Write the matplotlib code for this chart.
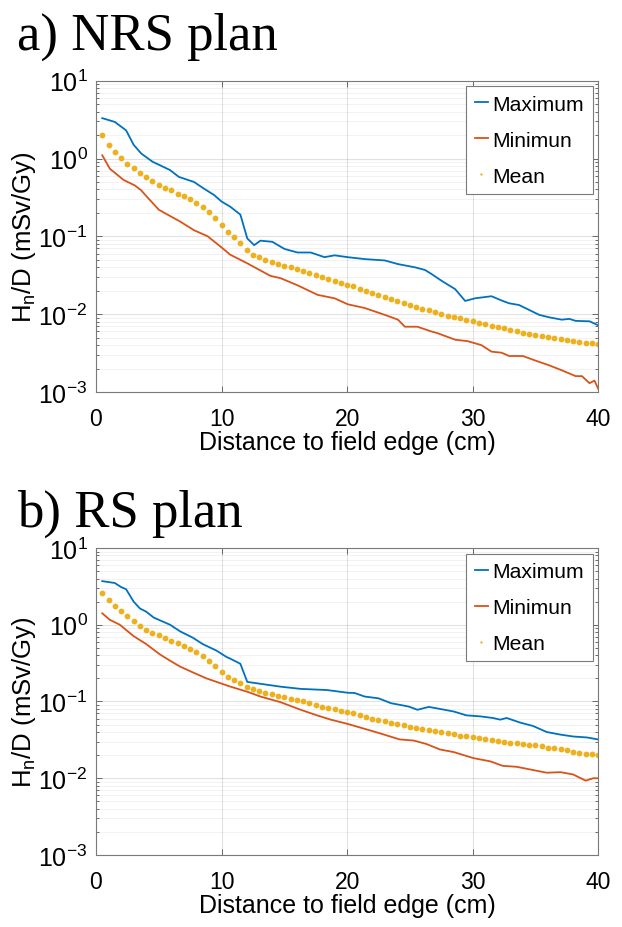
import numpy as np
import matplotlib
matplotlib.use("Agg")
import matplotlib.pyplot as plt
from matplotlib.ticker import LogLocator, LogFormatterMathtext, NullFormatter

plt.rcParams['font.family'] = ['Liberation Sans', 'DejaVu Sans']
plt.rcParams['mathtext.fontset'] = 'custom'
plt.rcParams['mathtext.rm'] = 'Liberation Sans'
plt.rcParams['mathtext.it'] = 'Liberation Sans:italic'

# MATLAB default colours
BLUE = '#0072BD'
RED = '#D95319'
YELLOW = '#EDB120'

# Mean dots: one every 0.5 cm
mean_x = np.arange(1, 81) * 0.5

# a) NRS plan
nrs_max_x = [0.5, 1.5, 2.4, 3.0, 3.6, 4.5, 5.9, 6.6, 7.8, 8.6, 9.4, 10.0, 10.7, 11.5,
             12.05, 12.6, 13.1, 14.05, 15.0, 16.05, 17.1, 18.2, 19.0, 20.05, 21.4,
             23.0, 24.05, 25.4, 26.2, 26.7, 27.5, 28.6, 29.4, 30.2, 31.5, 32.3,
             32.9, 33.7, 35.3, 36.1, 37.1, 37.7, 38.2, 39.3, 40.0]
nrs_max_y = [3.3, 2.95, 2.3, 1.5, 1.16, 0.91, 0.71, 0.58, 0.50, 0.41, 0.34, 0.28, 0.24, 0.19,
             0.094, 0.077, 0.088, 0.085, 0.069, 0.062, 0.062, 0.054, 0.057, 0.054, 0.051,
             0.049, 0.044, 0.040, 0.037, 0.033, 0.027, 0.021, 0.0148, 0.016, 0.017, 0.015,
             0.0138, 0.0131, 0.0098, 0.0091, 0.0085, 0.0087, 0.0082, 0.0081, 0.0072]
nrs_min_x = [0.5, 1.1, 2.2, 3.1, 3.6, 4.0, 5.0, 5.7, 6.7, 7.8, 8.9, 10.0, 10.7, 12.05,
             13.9, 14.7, 16.05, 17.65, 19.0, 20.05, 21.4, 23.0, 24.05, 24.6, 25.6,
             26.7, 27.2, 28.6, 29.6, 30.7, 31.5, 32.3, 32.9, 34.0, 35.1, 36.1, 37.1,
             38.2, 38.7, 39.3, 39.7, 40.0]
nrs_min_y = [1.10, 0.74, 0.53, 0.45, 0.39, 0.33, 0.22, 0.19, 0.155, 0.12, 0.10, 0.072, 0.058, 0.045,
             0.031, 0.029, 0.0235, 0.0177, 0.016, 0.0134, 0.012, 0.0098, 0.0085, 0.0069, 0.0069,
             0.006, 0.0057, 0.0047, 0.0045, 0.0040, 0.0033, 0.0032, 0.0029, 0.0029, 0.0025,
             0.0022, 0.0019, 0.0016, 0.0016, 0.0013, 0.0014, 0.0011]
nrs_mean = [2.0, 1.5, 1.22, 1.02, 0.86, 0.75, 0.66, 0.58, 0.51, 0.46,
            0.42, 0.39, 0.355, 0.325, 0.30, 0.27, 0.24, 0.205, 0.17, 0.138,
            0.115, 0.098, 0.081, 0.066, 0.058, 0.054, 0.050, 0.047, 0.0445, 0.042,
            0.040, 0.038, 0.036, 0.034, 0.032, 0.030, 0.0285, 0.027, 0.0255, 0.024,
            0.0227, 0.0213, 0.0200, 0.0188, 0.0178, 0.0167, 0.0157, 0.0148, 0.0140, 0.0132,
            0.0125, 0.0118, 0.0112, 0.0106, 0.0101, 0.0096, 0.0092, 0.0088, 0.0084, 0.0081,
            0.0077, 0.0074, 0.0071, 0.0068, 0.0066, 0.0063, 0.0061, 0.0058, 0.0056, 0.0054,
            0.0052, 0.0051, 0.0049, 0.0048, 0.0047, 0.0045, 0.0044, 0.0043, 0.0042, 0.0041]

# b) RS plan
rs_max_x = [0.5, 1.5, 2.0, 2.4, 3.0, 3.5, 4.0, 4.6, 5.9, 6.7, 7.7, 8.5, 9.6, 10.4, 10.72,
            11.5, 12.05, 13.1, 14.7, 16.3, 18.4, 20.05, 20.6, 21.4, 22.5, 23.5, 24.9,
            25.6, 26.5, 27.4, 28.5, 29.5, 30.6, 31.6, 32.2, 32.7, 33.8, 34.8, 35.9,
            37.0, 38.0, 39.1, 40.0]
rs_max_y = [3.7, 3.5, 3.1, 2.9, 2.0, 1.63, 1.48, 1.24, 1.0, 0.82, 0.68, 0.56, 0.46, 0.38, 0.36,
            0.31, 0.18, 0.17, 0.156, 0.146, 0.141, 0.130, 0.129, 0.116, 0.110, 0.095, 0.086,
            0.078, 0.085, 0.080, 0.074, 0.066, 0.064, 0.061, 0.058, 0.061, 0.053, 0.048, 0.040,
            0.037, 0.035, 0.034, 0.032]
rs_min_x = [0.5, 1.1, 1.9, 3.0, 4.0, 5.1, 5.9, 6.7, 7.7, 8.8, 10.0, 10.72, 12.05, 13.1,
            14.7, 16.3, 17.6, 18.7, 20.05, 21.4, 22.5, 24.2, 25.3, 26.3, 27.4, 28.5,
            30.05, 31.4, 32.4, 33.5, 34.8, 35.9, 37.0, 38.0, 39.0, 39.6, 40.0]
rs_min_y = [1.41, 1.16, 1.0, 0.71, 0.56, 0.41, 0.34, 0.285, 0.24, 0.20, 0.171, 0.156, 0.134, 0.116,
            0.098, 0.078, 0.066, 0.058, 0.051, 0.044, 0.039, 0.032, 0.031, 0.028, 0.0237, 0.0219,
            0.0183, 0.0166, 0.0145, 0.0141, 0.0128, 0.0118, 0.012, 0.0112, 0.0093, 0.010, 0.010]
rs_mean = [2.6, 2.1, 1.77, 1.51, 1.30, 1.12, 0.96, 0.86, 0.79, 0.73,
           0.68, 0.62, 0.57, 0.53, 0.48, 0.44, 0.39, 0.34, 0.29, 0.245,
           0.21, 0.19, 0.172, 0.155, 0.146, 0.137, 0.130, 0.124, 0.119, 0.114,
           0.109, 0.105, 0.100, 0.095, 0.090, 0.086, 0.082, 0.079, 0.076, 0.073,
           0.070, 0.066, 0.063, 0.060, 0.058, 0.056, 0.053, 0.051, 0.049, 0.047,
           0.045, 0.044, 0.0425, 0.041, 0.040, 0.039, 0.0375, 0.036, 0.035, 0.034,
           0.033, 0.032, 0.0315, 0.031, 0.030, 0.029, 0.0285, 0.028, 0.0275, 0.027,
           0.026, 0.025, 0.0245, 0.024, 0.023, 0.022, 0.0215, 0.021, 0.0205, 0.020]

panels = [
    ("a) NRS plan", nrs_max_x, nrs_max_y, nrs_min_x, nrs_min_y, nrs_mean),
    ("b) RS plan", rs_max_x, rs_max_y, rs_min_x, rs_min_y, rs_mean),
]

fig = plt.figure(figsize=(6.22, 9.28), dpi=100)
axes_rects = [[0.1543, 0.5765, 0.8075, 0.3355], [0.1543, 0.0776, 0.8075, 0.3308]]
title_y = [0.946, 0.432]

for i, (title, mx, my, nx, ny, mean) in enumerate(panels):
    ax = fig.add_axes(axes_rects[i])
    ax.plot(mx, my, color=BLUE, lw=1.3, label='Maximum')
    ax.plot(nx, ny, color=RED, lw=1.3, label='Minimun')
    ax.plot(mean_x, mean, linestyle='none', marker='o', ms=4.2, color=YELLOW,
            mec='none', label='Mean')
    ax.set_yscale('log')
    ax.set_xlim(0, 40)
    ax.set_ylim(1e-3, 1e1)
    ax.set_xticks([0, 10, 20, 30, 40])
    ax.yaxis.set_major_locator(LogLocator(base=10, numticks=10))
    ax.yaxis.set_major_formatter(LogFormatterMathtext())
    ax.yaxis.set_minor_locator(LogLocator(base=10, subs=np.arange(2, 10), numticks=20))
    ax.yaxis.set_minor_formatter(NullFormatter())
    ax.grid(True, which='major', color='#262626', alpha=0.13, lw=0.8)
    ax.grid(True, which='minor', axis='y', color='#262626', alpha=0.07, lw=0.6)
    ax.tick_params(which='both', direction='in', top=True, right=True,
                   color='#555555', width=0.6)
    ax.tick_params(axis='x', which='major', length=4, pad=11, labelsize=16.5)
    ax.tick_params(axis='y', which='major', length=4, pad=6, labelsize=18)
    ax.tick_params(which='minor', length=2)
    for s in ax.spines.values():
        s.set_color('#7a7a7a')
        s.set_linewidth(0.8)
    ax.set_xlabel('Distance to field edge (cm)', fontsize=18, labelpad=0)
    ax.set_ylabel(r'H$_\mathrm{n}$/D (mSv/Gy)', fontsize=18.5, labelpad=0)
    leg = ax.legend(loc='upper right', fontsize=15.2, handlelength=0.65,
                    handletextpad=0.2, borderpad=0.4, labelspacing=0.8,
                    fancybox=False, framealpha=1, borderaxespad=0.27,
                    markerscale=0.4)
    leg.get_frame().set_edgecolor('#7a7a7a')
    leg.get_frame().set_linewidth(0.8)
    fig.text(0.028, title_y[i], title, fontsize=38, family='Liberation Serif',
             va='baseline', ha='left')

fig.savefig('out.png', dpi=100)
